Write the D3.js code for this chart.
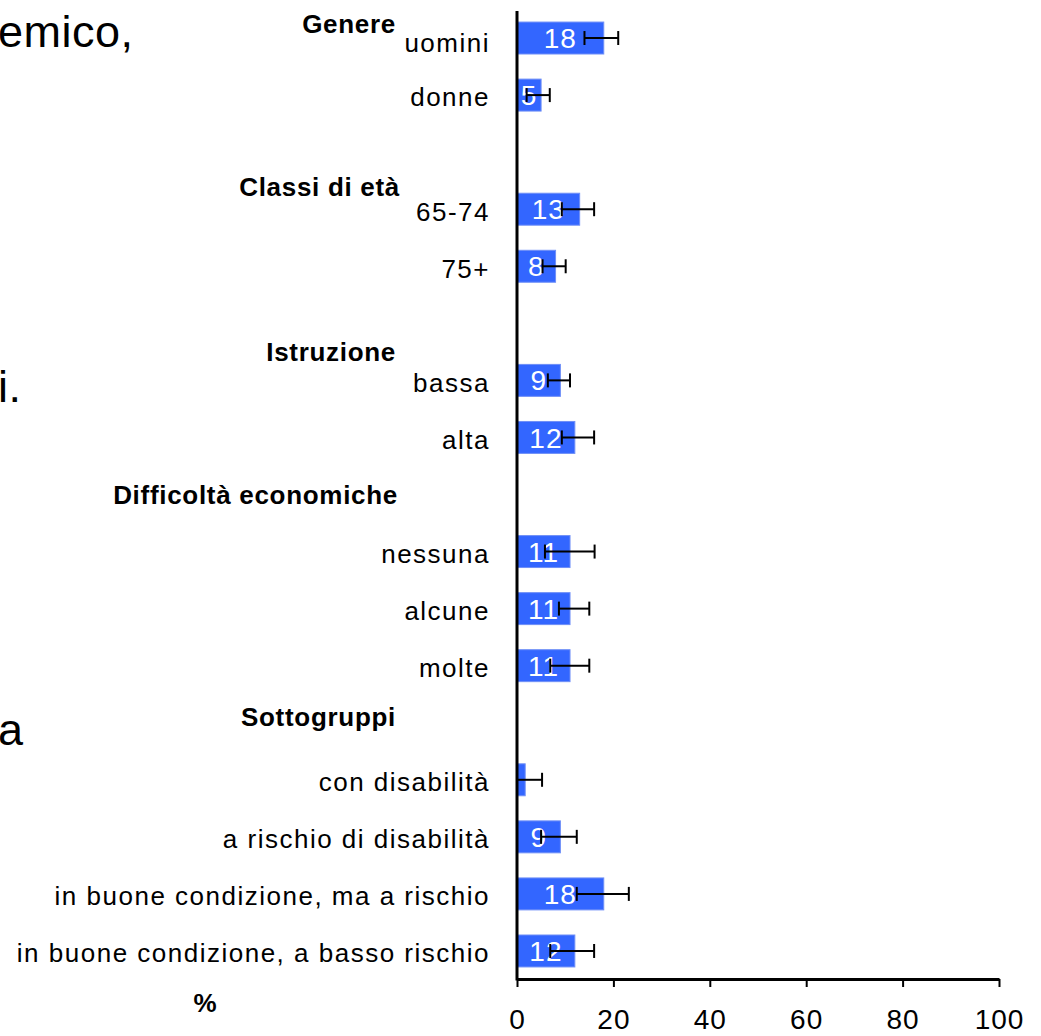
<!DOCTYPE html>
<html>
<head>
<meta charset="utf-8">
<script src="https://cdn.jsdelivr.net/npm/d3@7"></script>
<style>
  html, body { margin: 0; padding: 0; background: #fff; }
  svg { display: block; }
  text { font-family: "Liberation Sans", Arial, sans-serif; }
</style>
</head>
<body>
<svg id="chart" width="1041" height="1036"></svg>
<script>
// ---- data ----
const rows = ["uomini", "donne", "", "65-74", "75+", " ", "bassa", "alta", "  ",
  "nessuna", "alcune", "molte", "   ",
  "con disabilità", "a rischio di disabilità", "in buone condizione, ma a rischio",
  "in buone condizione, a basso rischio"];
const categories = ["uomini", "donne", "65-74", "75+", "bassa", "alta",
  "nessuna", "alcune", "molte",
  "con disabilità", "a rischio di disabilità", "in buone condizione, ma a rischio",
  "in buone condizione, a basso rischio"];
const values = [18, 5, 13, 8, 9, 12, 11, 11, 11, 1.7, 9, 18, 12];
const lower  = [14, 2, 9.3, 5.3, 6.4, 9.3, 5.8, 8.7, 6.9, 0, 5, 12.4, 6.9];
const upper  = [21, 6.8, 16, 10.1, 11, 16, 16.1, 15, 15, 5.2, 12.4, 23.2, 16];
const groups = ["Genere", "Classi di età", "Istruzione", "Difficoltà economiche", "Sottogruppi"];
const groupRow = ["uomini", "65-74", "bassa", "  ", "   "];
const ticks = [0, 20, 40, 60, 80, 100];
const axisTitle = "%";
const sideText = ["emico,", "i.", "a"];

// ---- layout ----
const groupOffset = [-14, -23, -29, 0, -6];
const groupRight = [396, 400, 396, 398, 396];
const sideY = [31, 386, 729];

const svg = d3.select("#chart");
const x = d3.scaleLinear().domain([0, 100]).range([517, 999]);
const y = d3.scaleBand().domain(rows).range([9.5, 979.5]).paddingInner(0.44).paddingOuter(0.22);
const bw = y.bandwidth();

// side slide text fragments
svg.selectAll("text.side").data(sideText).join("text")
  .attr("class", "side")
  .attr("x", -2).attr("y", (d, i) => sideY[i])
  .attr("dy", "0.36em")
  .attr("font-size", 45)
  .attr("letter-spacing", 0.5)
  .attr("fill", "#000")
  .text(d => d);

// bars
svg.selectAll("rect.bar").data(categories).join("rect")
  .attr("class", "bar")
  .attr("x", x(0))
  .attr("y", d => y(d))
  .attr("width", (d, i) => x(values[i]) - x(0))
  .attr("height", bw)
  .attr("fill", "#3366ff")
  .attr("stroke", "#6f8ff7").attr("stroke-width", 1);

// value labels
svg.selectAll("text.val").data(categories).join("text")
  .attr("class", "val")
  .attr("x", (d, i) => (x(0) + x(values[i])) / 2)
  .attr("y", d => y(d) + bw / 2)
  .attr("dy", "0.36em")
  .attr("text-anchor", "middle")
  .attr("font-size", 28)
  .attr("letter-spacing", 1)
  .attr("fill", "#fff")
  .text((d, i) => values[i] >= 3 ? Math.round(values[i]) : "");

// error bars
const eb = svg.append("g").attr("stroke", "#000").attr("stroke-width", 2);
categories.forEach((c, i) => {
  const cy = y(c) + bw / 2;
  eb.append("line").attr("x1", x(lower[i])).attr("x2", x(upper[i])).attr("y1", cy).attr("y2", cy);
  eb.append("line").attr("x1", x(upper[i])).attr("x2", x(upper[i])).attr("y1", cy - 7).attr("y2", cy + 7);
  if (lower[i] > 0.5)
    eb.append("line").attr("x1", x(lower[i])).attr("x2", x(lower[i])).attr("y1", cy - 7).attr("y2", cy + 7);
});

// category labels
svg.selectAll("text.cat").data(categories).join("text")
  .attr("class", "cat")
  .attr("x", 490)
  .attr("y", (d, i) => y(d) + bw / 2 + (i === 0 ? 5 : 2))
  .attr("dy", "0.36em")
  .attr("text-anchor", "end")
  .attr("font-size", 26)
  .attr("letter-spacing", 1.5)
  .attr("fill", "#000")
  .text(d => d);

// group headers
svg.selectAll("text.grp").data(groups).join("text")
  .attr("class", "grp")
  .attr("x", (d, i) => groupRight[i])
  .attr("y", (d, i) => y(groupRow[i]) + bw / 2 + groupOffset[i])
  .attr("dy", "0.36em")
  .attr("text-anchor", "end")
  .attr("font-size", 26)
  .attr("letter-spacing", 0.7)
  .attr("font-weight", "bold")
  .attr("fill", "#000")
  .text(d => d);

// axes
const xAxis = d3.axisBottom(x).tickValues(ticks).tickSize(8).tickPadding(22).tickSizeOuter(0);
const gx = svg.append("g").attr("transform", `translate(0,${979})`).call(xAxis);
gx.select(".domain").attr("stroke", "#000").attr("stroke-width", 3);
gx.selectAll(".tick line").attr("stroke", "#000").attr("stroke-width", 2);
gx.selectAll(".tick text").attr("font-size", 28).attr("letter-spacing", 1).attr("fill", "#000")
  .attr("font-family", '"Liberation Sans", Arial, sans-serif');

svg.append("line")
  .attr("x1", x(0)).attr("x2", x(0))
  .attr("y1", 11).attr("y2", 980.5)
  .attr("stroke", "#000").attr("stroke-width", 3);

// axis title
svg.append("text")
  .attr("x", 205).attr("y", 1003).attr("dy", "0.36em")
  .attr("text-anchor", "middle")
  .attr("font-size", 26).attr("font-weight", "bold")
  .attr("fill", "#000")
  .text(axisTitle);
</script>
</body>
</html>
